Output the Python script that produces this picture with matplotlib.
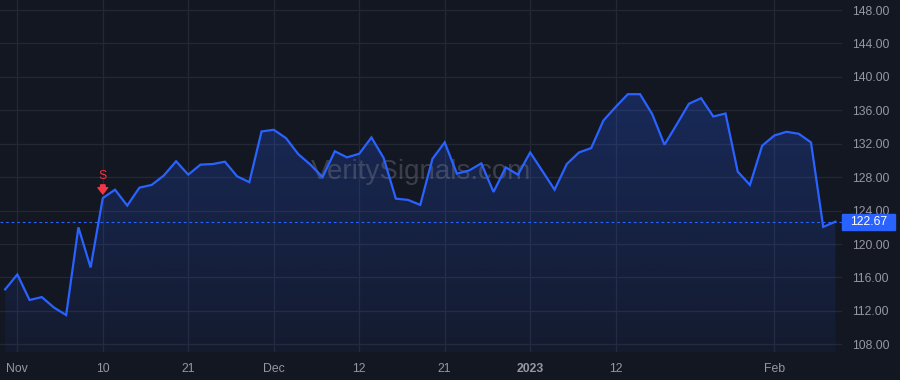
import numpy as np
import matplotlib
matplotlib.use("Agg")
import matplotlib.pyplot as plt
from matplotlib.transforms import blended_transform_factory
from matplotlib.patches import Rectangle

plt.rcParams["font.family"] = ["Liberation Sans", "DejaVu Sans"]

# daily closes, Oct 31 2022 .. Feb 8 2023 (trading days)
prices = [
    114.57, 116.36, 113.30, 113.65, 112.40, 111.50, 122.00, 117.20, 125.50, 126.50,
    124.60, 126.75, 127.07, 128.20, 129.90, 128.30, 129.50, 129.57, 129.85, 128.10,
    127.40, 133.47, 133.67, 132.68, 130.77, 129.50, 128.00, 131.10, 130.37, 130.80,
    132.75, 130.30, 125.43, 125.28, 124.68, 130.20, 132.16, 128.42, 128.80, 129.65,
    126.23, 129.17, 128.30, 130.96, 128.74, 126.50, 129.57, 130.96, 131.48, 134.78,
    136.40, 137.93, 137.93, 135.54, 131.88, 134.30, 136.78, 137.45, 135.26, 135.62,
    128.66, 127.07, 131.76, 132.99, 133.43, 133.19, 132.16, 122.05, 122.67,
]
tick_idx = [1, 8, 15, 22, 29, 36, 43, 50, 63]
tick_labels = ["Nov", "10", "21", "Dec", "12", "21", "2023", "12", "Feb"]
y_ticks = [108, 112, 116, 120, 124, 128, 132, 136, 140, 144, 148]
signal_idx = 8
signal_label = "S"
watermark = "VeritySignals.com"

BG = "#131722"
LINE = "#2962ff"
GRID = "#242835"
TXT = "#9598a1"
RED = "#f23645"

x = np.arange(len(prices))
y = np.array(prices)
last = prices[-1]
ymin, ymax = 107.08, 149.2

fig = plt.figure(figsize=(9, 3.8), dpi=100, facecolor=BG)
ax = fig.add_axes([0, 1 - 352 / 380, 842 / 900, 352 / 380])
ax.set_facecolor(BG)
ax.set_xlim(-0.42, 68.54)
ax.set_ylim(ymin, ymax)

# gradient area under the line
fill = ax.fill_between(x, y, ymin, color="none", lw=0)
grad = np.zeros((256, 1, 4))
grad[:, 0, 0] = 41 / 255
grad[:, 0, 1] = 98 / 255
grad[:, 0, 2] = 1.0
grad[:, 0, 3] = np.linspace(0.06, 0.25, 256)
im = ax.imshow(grad, extent=[x[0], x[-1], ymin, y.max()], origin="lower",
               aspect="auto", zorder=1, interpolation="bilinear")
im.set_clip_path(fill.get_paths()[0], transform=ax.transData)

ax.text(0.5, 0.51, watermark, transform=ax.transAxes, ha="center", va="center",
        fontsize=20, color="#787b86", alpha=0.4, zorder=2)

ax.plot(x, y, color=LINE, lw=1.6, zorder=3, solid_joinstyle="miter")
ax.axhline(last, color=LINE, lw=0.8, ls=(0, (2.5, 2.5)), zorder=2)

# sell signal
sv = prices[signal_idx]
ax.annotate("", xy=(signal_idx, sv), xytext=(0, 9.5), textcoords="offset points",
            arrowprops=dict(arrowstyle="simple,head_width=0.7,head_length=0.45,tail_width=0.32",
                            color=RED, shrinkA=0, shrinkB=3, mutation_scale=10), zorder=4)
ax.annotate(signal_label, xy=(signal_idx, sv), xytext=(0, 16), textcoords="offset points",
            ha="center", va="center", color=RED, fontsize=8.8, zorder=4)

# grid / axes
ax.set_xticks(tick_idx)
ax.set_xticklabels(tick_labels)
ax.set_yticks(y_ticks)
ax.set_yticklabels([f"{v:.2f}" for v in y_ticks])
ax.yaxis.tick_right()
ax.grid(True, color=GRID, lw=0.9, zorder=0)
ax.set_axisbelow(True)
ax.tick_params(axis="both", length=0, colors=TXT, labelsize=8.8)
ax.tick_params(axis="x", pad=8)
ax.tick_params(axis="y", pad=7.5)
for lbl in ax.get_xticklabels():
    if lbl.get_text() == "2023":
        lbl.set_fontweight("bold")
for s in ax.spines.values():
    s.set_visible(False)

# last price tag
tr = blended_transform_factory(ax.transAxes, ax.transData)
ax.add_patch(Rectangle((1.0, last - 0.95), 53 / 842, 1.9, transform=tr,
                       color=LINE, clip_on=False, zorder=5))
ax.text(1.0 + 27 / 842, last, f"{last:.2f}", transform=tr, ha="center", va="center",
        color="white", fontsize=8.8, zorder=6, clip_on=False)

fig.savefig("out.png", dpi=100, facecolor=BG)
